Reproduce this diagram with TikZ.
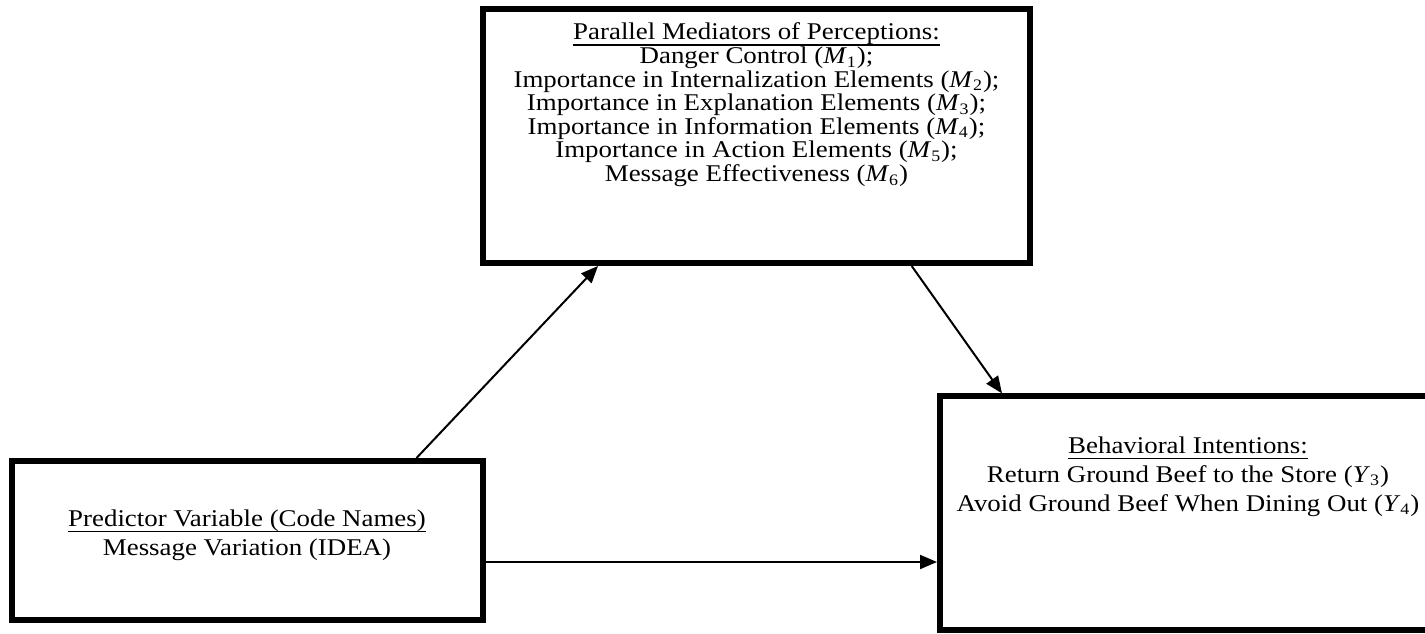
\documentclass[tikz,border=0pt]{standalone}
\usepackage{fontspec}
\setmainfont[FakeStretch=1.12]{Liberation Serif}
\usetikzlibrary{arrows.meta,calc}
% underline drawn just under the baseline, crossing descenders
\newlength\ulwd
\newcommand\ulword[1]{\settowidth\ulwd{#1}\rlap{\rule[-2.8pt]{\ulwd}{0.75pt}}#1}
\tikzset{
  varbox/.style={draw=black, line width=3pt, rectangle, inner sep=0pt, fill=none},
  boxtext/.style={align=center, inner sep=0pt, anchor=base},
  arr/.style={line width=1pt, -{Triangle[length=8.5pt,width=7pt]}}
}
\begin{document}
\begin{tikzpicture}[x=0.5pt, y=-0.5pt]
  \useasboundingbox (0,0) rectangle (1425,633);

  % variable boxes
  \node[varbox, minimum width=273.5pt, minimum height=127pt] (med) at (756.5,136) {};
  \node[varbox, minimum width=235.5pt, minimum height=79.5pt] (pred) at (247,540.5) {};
  \node[varbox, minimum width=248pt, minimum height=117pt] (beh) at (1188,513.4) {};

  % box contents (each node is placed by the baseline of its last line)
  \node[boxtext, font=\fontsize{12pt}{11.8pt}\selectfont] (medtxt) at (756.5,181.5)
    {\ulword{Parallel Mediators of Perceptions:}\\
     Danger Control (\textit{M}\textsubscript{1});\\
     Importance in Internalization Elements (\textit{M}\textsubscript{2});\\
     Importance in Explanation Elements (\textit{M}\textsubscript{3});\\
     Importance in Information Elements (\textit{M}\textsubscript{4});\\
     Importance in Action Elements (\textit{M}\textsubscript{5});\\
     Message Effectiveness (\textit{M}\textsubscript{6})};
  \node[boxtext, font=\fontsize{12pt}{14.2pt}\selectfont] (predtxt) at (247,555)
    {\ulword{Predictor Variable (Code Names)}\\
     Message Variation (IDEA)};
  \node[boxtext, font=\fontsize{12pt}{14.4pt}\selectfont] (behtxt) at (1188,511)
    {\ulword{Behavioral Intentions:}\\
     Return Ground Beef to the Store (\textit{Y}\textsubscript{3})\\
     Avoid Ground Beef When Dining Out (\textit{Y}\textsubscript{4})};

  % paths
  \draw[arr] ($(pred.north west)+(408,0)$) -- ($(med.south west)+(118,0)$);
  \draw[arr] ($(med.south west)+(431.7,0)$) -- ($(beh.north west)+(65,0)$);
  \draw[arr] ($(pred.south east)+(0,-61)$) coordinate (h) -- (h -| beh.west);
\end{tikzpicture}
\end{document}
